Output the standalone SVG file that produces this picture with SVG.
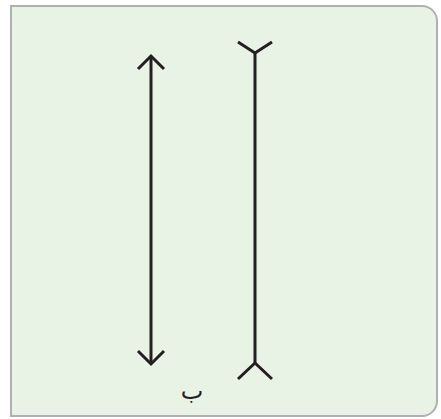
<svg xmlns="http://www.w3.org/2000/svg" width="441" height="419" viewBox="0 0 441 419">
<style>
.ln{stroke:#231f20;stroke-width:3;fill:none;stroke-linecap:butt;stroke-linejoin:miter}
.lbl{font-family:"DejaVu Sans","Noto Sans",sans-serif;font-size:24px;fill:#231f20}
</style>
<g id="panel">
<path d="M11,6 H422 A15,15 0 0 1 437,21 V401 A15,15 0 0 1 422,416 H11 Z" fill="#e8f3e6" stroke="#b0b0b0" stroke-width="2"/>
</g>
<g id="connectors">
<g id="double-arrow">
<line class="ln" x1="151" y1="57" x2="151" y2="363"/>
<polyline class="ln" points="138,69 151,56 164,69"/>
<polyline class="ln" points="138,351 151,364 164,351"/>
</g>
<g id="fork-line">
<line class="ln" x1="255" y1="53" x2="255" y2="363"/>
<polyline class="ln" points="238,42 255,53 272,42"/>
<polyline class="ln" points="238,379 255,363 272,379"/>
</g>
</g>
<g id="label">
<text class="lbl" x="192" y="399" text-anchor="middle">ب</text>
</g>
</svg>
